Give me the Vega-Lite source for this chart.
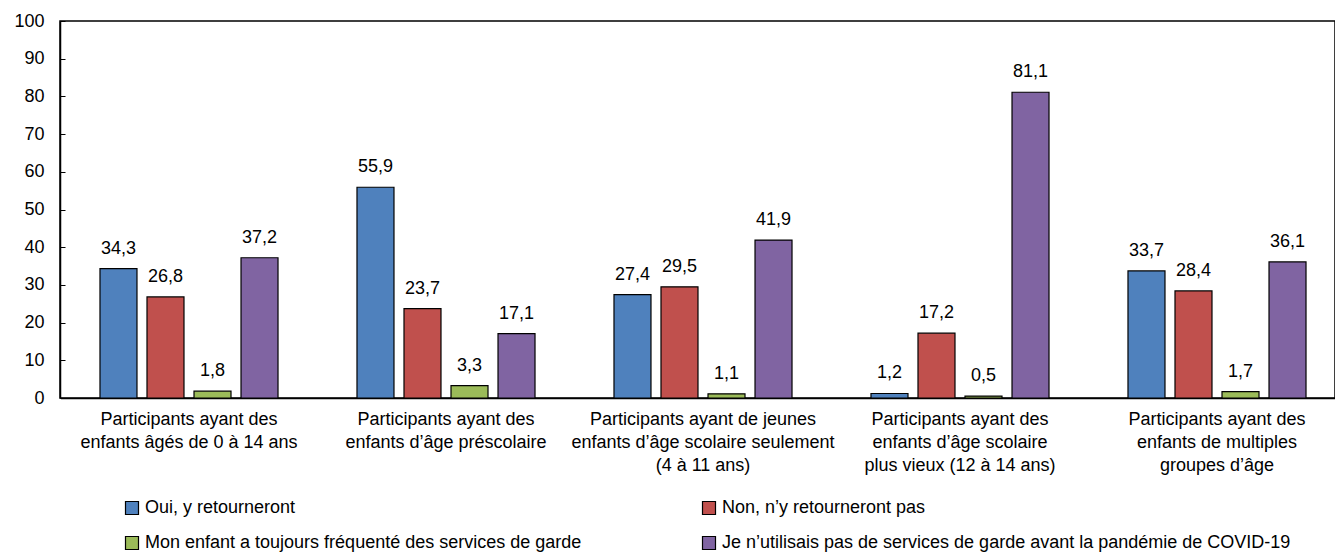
{
  "$schema": "https://vega.github.io/schema/vega-lite/v6.json",
  "width": 1275,
  "height": 377,
  "autosize": {"type": "none"},
  "padding": {"left": 60, "top": 21, "right": 0, "bottom": 156},
  "background": "white",
  "config": {
    "view": {"stroke": "black", "strokeWidth": 1.5},
    "font": "Liberation Sans"
  },
  "data": {
    "values": [
      {"group": "Participants ayant des|enfants âgés de 0 à 14 ans", "series": "Oui, y retourneront", "value": 34.3},
      {"group": "Participants ayant des|enfants âgés de 0 à 14 ans", "series": "Non, n’y retourneront pas", "value": 26.8},
      {"group": "Participants ayant des|enfants âgés de 0 à 14 ans", "series": "Mon enfant a toujours fréquenté des services de garde", "value": 1.8},
      {"group": "Participants ayant des|enfants âgés de 0 à 14 ans", "series": "Je n’utilisais pas de services de garde avant la pandémie de COVID-19", "value": 37.2},
      {"group": "Participants ayant des|enfants d’âge préscolaire", "series": "Oui, y retourneront", "value": 55.9},
      {"group": "Participants ayant des|enfants d’âge préscolaire", "series": "Non, n’y retourneront pas", "value": 23.7},
      {"group": "Participants ayant des|enfants d’âge préscolaire", "series": "Mon enfant a toujours fréquenté des services de garde", "value": 3.3},
      {"group": "Participants ayant des|enfants d’âge préscolaire", "series": "Je n’utilisais pas de services de garde avant la pandémie de COVID-19", "value": 17.1},
      {"group": "Participants ayant de jeunes|enfants d’âge scolaire seulement|(4 à 11 ans)", "series": "Oui, y retourneront", "value": 27.4},
      {"group": "Participants ayant de jeunes|enfants d’âge scolaire seulement|(4 à 11 ans)", "series": "Non, n’y retourneront pas", "value": 29.5},
      {"group": "Participants ayant de jeunes|enfants d’âge scolaire seulement|(4 à 11 ans)", "series": "Mon enfant a toujours fréquenté des services de garde", "value": 1.1},
      {"group": "Participants ayant de jeunes|enfants d’âge scolaire seulement|(4 à 11 ans)", "series": "Je n’utilisais pas de services de garde avant la pandémie de COVID-19", "value": 41.9},
      {"group": "Participants ayant des|enfants d’âge scolaire|plus vieux (12 à 14 ans)", "series": "Oui, y retourneront", "value": 1.2},
      {"group": "Participants ayant des|enfants d’âge scolaire|plus vieux (12 à 14 ans)", "series": "Non, n’y retourneront pas", "value": 17.2},
      {"group": "Participants ayant des|enfants d’âge scolaire|plus vieux (12 à 14 ans)", "series": "Mon enfant a toujours fréquenté des services de garde", "value": 0.5},
      {"group": "Participants ayant des|enfants d’âge scolaire|plus vieux (12 à 14 ans)", "series": "Je n’utilisais pas de services de garde avant la pandémie de COVID-19", "value": 81.1},
      {"group": "Participants ayant des|enfants de multiples|groupes d’âge", "series": "Oui, y retourneront", "value": 33.7},
      {"group": "Participants ayant des|enfants de multiples|groupes d’âge", "series": "Non, n’y retourneront pas", "value": 28.4},
      {"group": "Participants ayant des|enfants de multiples|groupes d’âge", "series": "Mon enfant a toujours fréquenté des services de garde", "value": 1.7},
      {"group": "Participants ayant des|enfants de multiples|groupes d’âge", "series": "Je n’utilisais pas de services de garde avant la pandémie de COVID-19", "value": 36.1}
    ]
  },
  "transform": [
    {"calculate": "replace(format(datum.value, '.1f'), '.', ',')", "as": "label"}
  ],
  "encoding": {
    "x": {
      "field": "group",
      "type": "nominal",
      "sort": null,
      "scale": {"paddingInner": 0, "paddingOuter": 0, "range": [0.5, 1285.5]},
      "axis": {
        "title": null,
        "ticks": false,
        "labelAngle": 0,
        "labelExpr": "split(datum.label, '|')",
        "labelFontSize": 18,
        "labelLineHeight": 23,
        "labelPadding": 12,
        "labelColor": "black",
        "labelLimit": 600,
        "domainColor": "black",
        "domainWidth": 1.5
      }
    },
    "xOffset": {
      "field": "series",
      "type": "nominal",
      "sort": ["Oui, y retourneront", "Non, n’y retourneront pas", "Mon enfant a toujours fréquenté des services de garde", "Je n’utilisais pas de services de garde avant la pandémie de COVID-19"],
      "scale": {"paddingInner": 0.213, "paddingOuter": 0.84}
    },
    "y": {
      "field": "value",
      "type": "quantitative",
      "scale": {"domain": [0, 100], "nice": false},
      "axis": {
        "title": null,
        "values": [0, 10, 20, 30, 40, 50, 60, 70, 80, 90, 100],
        "grid": false,
        "tickSize": -5,
        "tickColor": "black",
        "labelPadding": 21,
        "labelFontSize": 18,
        "labelColor": "black",
        "domainColor": "black",
        "domainWidth": 1.5
      }
    }
  },
  "layer": [
    {
      "mark": {"type": "bar", "stroke": "black", "strokeWidth": 1.2},
      "encoding": {
        "color": {
          "field": "series",
          "type": "nominal",
          "scale": {
            "domain": ["Oui, y retourneront", "Non, n’y retourneront pas", "Mon enfant a toujours fréquenté des services de garde", "Je n’utilisais pas de services de garde avant la pandémie de COVID-19"],
            "range": ["#4F81BD", "#C0504D", "#9BBB59", "#8064A2"]
          },
          "legend": {
            "orient": "none",
            "direction": "horizontal",
            "legendX": 63,
            "legendY": 478,
            "columns": 2,
            "title": null,
            "padding": 0,
            "symbolType": "square",
            "symbolSize": 169,
            "symbolStrokeColor": "black",
            "symbolStrokeWidth": 1.2,
            "labelFontSize": 18,
            "labelColor": "black",
            "labelOffset": 4,
            "labelLimit": 1000,
            "columnPadding": 118,
            "rowPadding": 17
          }
        }
      }
    },
    {
      "mark": {"type": "text", "baseline": "alphabetic", "dy": -15, "fontSize": 18, "color": "black"},
      "encoding": {"text": {"field": "label"}}
    }
  ]
}
